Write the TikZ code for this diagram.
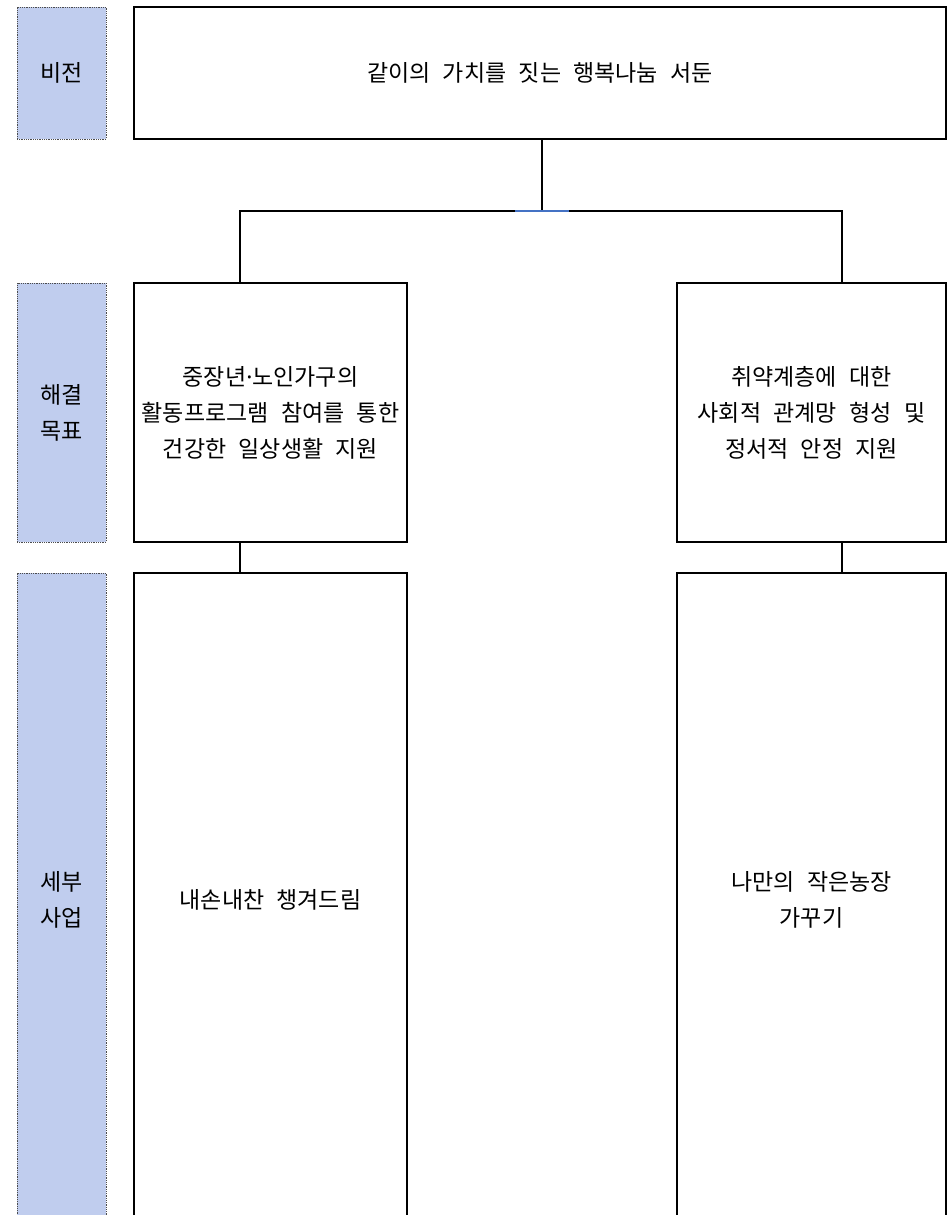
\documentclass[tikz,border=0pt]{standalone}
\usepackage{fontspec}
\setmainfont[WordSpace=2.4]{Noto Sans CJK KR}
\newfontfamily\dotfont{Noto Sans}
\usetikzlibrary{positioning}
\definecolor{labelblue}{RGB}{192,205,238}
\definecolor{linkblue}{RGB}{68,114,196}

\begin{document}
\begin{tikzpicture}[x=1pt,y=-1pt,
    nodes={outer sep=0pt,font=\fontsize{23}{36}\selectfont,align=center},
    label box/.style={fill=labelblue,draw=black!70,densely dotted,line width=0.8pt,minimum width=89pt},
    main box/.style={draw,line width=2pt}]
      \useasboundingbox (0,0) rectangle (950,1215);
      \node (visionlabel) at (61.5,73)  [label box, minimum height=132pt] {비전};
      \node (goallabel)   at (61.5,412.5) [label box, minimum height=259pt] {해결\\목표};
      \node (tasklabel)   at (61.5,900) [label box, minimum height=654pt] {세부\\사업};
      \node (vision)      at (540,73)   [main box, minimum width=812pt, minimum height=132pt] {같이의 가치를 짓는 행복나눔 서둔};
      \node (goalleft)    at (270.5,412.5) [main box, minimum width=273pt, minimum height=259pt] {중장년{\dotfont·}노인가구의\\활동프로그램 참여를 통한\\건강한 일상생활 지원};
      \node (goalright)   at (811.5,412.5) [main box, minimum width=269pt, minimum height=259pt] {취약계층에 대한\\사회적 관계망 형성 및\\정서적 안정 지원};
      \node (taskleft)    at (270.5,900) [main box, minimum width=273pt, minimum height=654pt] {내손내찬 챙겨드림};
      \node (taskright)   at (811.5,900) [main box, minimum width=269pt, minimum height=654pt] {나만의 작은농장\\가꾸기};
      % tree lines
      \coordinate (hub)   at (542,211);
      \coordinate (dropL) at (240,211);
      \coordinate (dropR) at (842,211);
      \draw[line width=1.6pt] (vision.south -| hub) -- (hub);
      \draw[line width=1.6pt] (dropL |- goalleft.north) -- (dropL) -- (dropR) -- (dropR |- goalright.north);
      \draw[linkblue,line width=1.6pt] (515,211) -- (569,211);
      \draw[line width=1.6pt] (goalleft.south -| dropL) -- (taskleft.north -| dropL);
      \draw[line width=1.6pt] (goalright.south -| dropR) -- (taskright.north -| dropR);
    \end{tikzpicture}
\end{document}
